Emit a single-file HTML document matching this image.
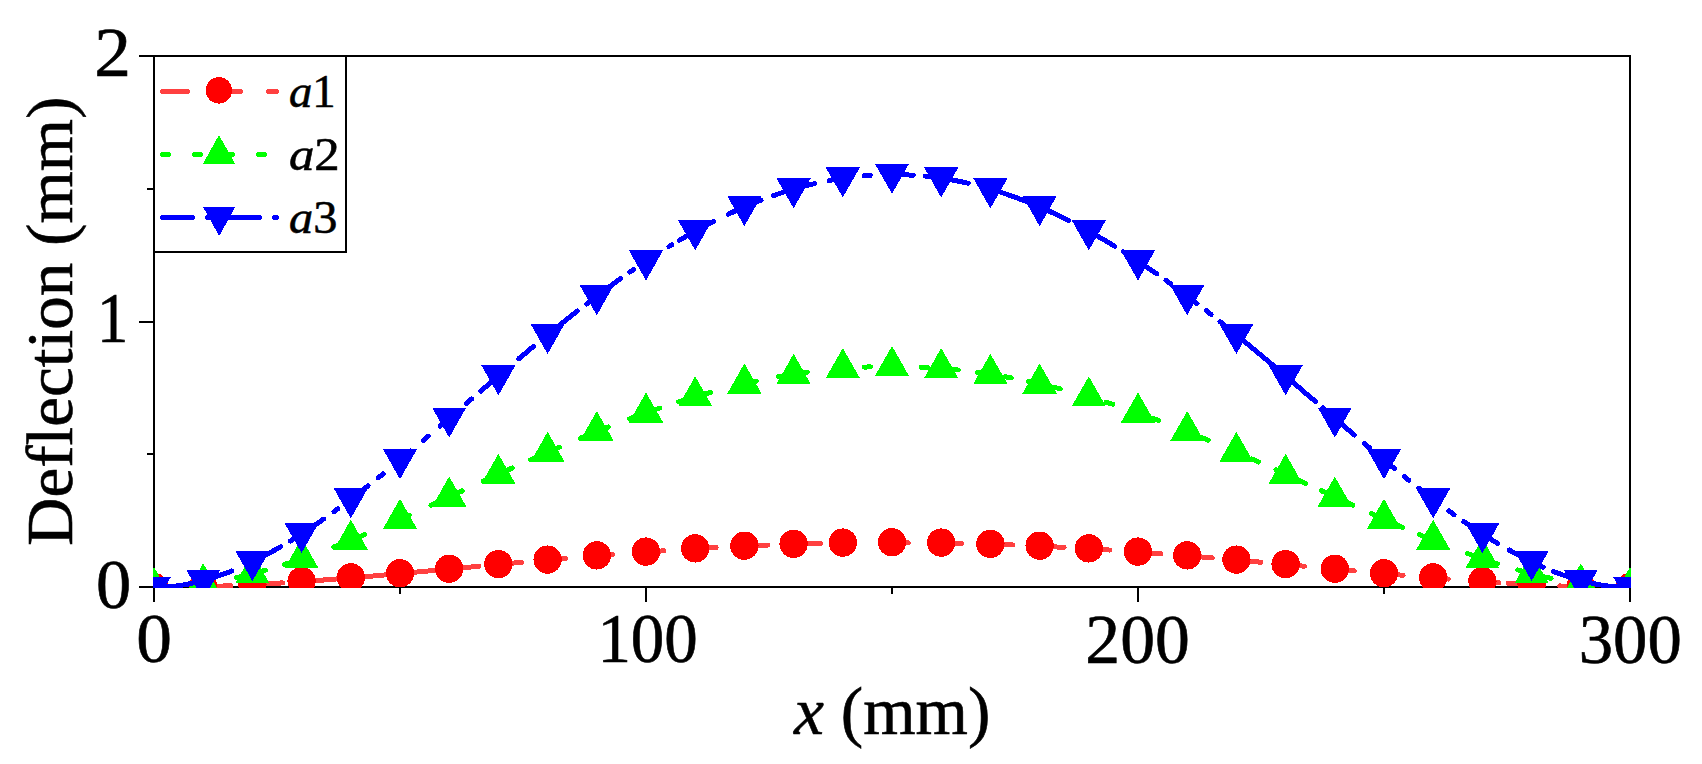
<!DOCTYPE html>
<html><head><meta charset="utf-8"><title>Deflection</title>
<style>
html,body{margin:0;padding:0;background:#fff;}
body{width:1702px;height:764px;overflow:hidden;}
svg{display:block;}
text{font-family:"Liberation Serif",serif;fill:#000;stroke:#000;stroke-width:0.6px;}
</style></head><body>
<svg width="1702" height="764" viewBox="0 0 1702 764">
<rect width="1702" height="764" fill="#fff"/>
<defs><clipPath id="cp"><rect x="153.0" y="55.0" width="1478.0" height="533.0"/></clipPath></defs>

<g stroke="#000" stroke-width="2" fill="none" stroke-linecap="butt" shape-rendering="crispEdges">
<rect x="154.0" y="56.0" width="1476.0" height="531.0"/>
<line x1="139.0" y1="587" x2="154.0" y2="587"/>
<line x1="139.0" y1="322" x2="154.0" y2="322"/>
<line x1="139.0" y1="56" x2="154.0" y2="56"/>
<line x1="147.0" y1="454" x2="154.0" y2="454"/>
<line x1="147.0" y1="189" x2="154.0" y2="189"/>
<line x1="154.0" y1="587.0" x2="154.0" y2="602.0"/>
<line x1="646.0" y1="587.0" x2="646.0" y2="602.0"/>
<line x1="1138.0" y1="587.0" x2="1138.0" y2="602.0"/>
<line x1="1630.0" y1="587.0" x2="1630.0" y2="602.0"/>
<line x1="400.0" y1="587.0" x2="400.0" y2="594.0"/>
<line x1="892.0" y1="587.0" x2="892.0" y2="594.0"/>
<line x1="1384.0" y1="587.0" x2="1384.0" y2="594.0"/>
</g>
<g clip-path="url(#cp)" shape-rendering="crispEdges">
<path d="M205.9,586.6 L208.1,586.5 L210.6,586.4 L213.0,586.3 L215.5,586.3 L218.0,586.2 L220.4,586.1 L222.9,586.0 L225.3,585.9 L227.8,585.8 L230.3,585.7 L230.9,585.7 M257.6,584.3 L259.8,584.2 L262.2,584.1 L264.7,584.0 L267.2,583.8 L269.6,583.7 L272.1,583.5 L274.5,583.4 L277.0,583.2 L279.5,583.1 L281.9,582.9 L282.6,582.9 M304.5,581.4 L306.5,581.2 L309.0,581.1 L311.4,580.9 L313.9,580.7 L316.4,580.5 L318.8,580.3 L321.3,580.2 L323.7,580.0 L326.2,579.8 L328.7,579.6 L331.1,579.4 L333.6,579.2 L336.0,579.0 L338.5,578.8 L341.0,578.6 L343.4,578.4 L345.9,578.2 L348.3,578.0 L350.8,577.8 L353.3,577.6 L355.7,577.4 L358.2,577.2 L360.6,577.0 L363.1,576.8 L365.6,576.6 L368.0,576.4 L370.5,576.2 L372.9,576.0 L375.4,575.8 L377.9,575.5 L380.3,575.3 L382.8,575.1 L385.2,574.9 L387.7,574.7 L390.2,574.5 L392.6,574.2 L395.1,574.0 L397.5,573.8 L400.0,573.6 L402.5,573.4 L404.9,573.1 L407.4,572.9 L409.8,572.7 L412.3,572.5 L414.8,572.2 L417.2,572.0 L419.7,571.8 L422.1,571.6 L424.6,571.3 L427.1,571.1 L429.5,570.9 L432.0,570.7 L434.4,570.4 L436.9,570.2 L439.4,570.0 L441.8,569.7 L444.3,569.5 L446.7,569.3 L449.2,569.1 L451.7,568.8 L454.1,568.6 L456.6,568.4 L459.0,568.1 L461.5,567.9 L464.0,567.7 L466.4,567.4 L468.9,567.2 L471.3,567.0 L473.8,566.8 L476.3,566.5 L478.7,566.3 L478.9,566.3 M501.2,564.2 L503.3,564.0 L505.8,563.8 L508.2,563.6 L510.7,563.3 L513.2,563.1 L515.6,562.9 L518.1,562.7 L520.5,562.4 L521.6,562.3 M550.5,559.7 L552.5,559.6 L555.0,559.3 L557.4,559.1 L559.9,558.9 L562.4,558.7 L564.8,558.5 L565.2,558.5 M599.7,555.6 L601.7,555.4 L604.2,555.2 L606.6,555.0 L609.1,554.8 L611.6,554.6 L612.8,554.5 M648.5,551.8 L650.9,551.7 L653.4,551.5 L655.8,551.3 L658.3,551.1 L660.8,551.0 L663.2,550.8 L663.9,550.8 M698.1,548.6 L700.1,548.5 L702.6,548.3 L705.0,548.2 L707.5,548.0 L710.0,547.9 L712.4,547.8 L714.9,547.6 L716.3,547.5 M747.5,546.0 L749.3,545.9 L751.8,545.8 L754.2,545.7 L756.7,545.6 L759.2,545.5 L761.6,545.4 L764.1,545.3 L766.5,545.2 L768.0,545.1 M796.5,544.1 L798.5,544.0 L801.0,544.0 L803.4,543.9 L805.9,543.8 L808.4,543.8 L810.8,543.7 L813.3,543.6 L815.7,543.6 L818.2,543.5 L820.4,543.4 M895.0,542.6 L896.9,542.6 L899.4,542.6 L901.8,542.6 L904.3,542.6 L906.8,542.6 L908.3,542.7 M944.2,543.1 L946.1,543.1 L948.6,543.1 L951.0,543.2 L953.5,543.2 L956.0,543.3 L958.4,543.3 L960.9,543.4 L961.4,543.4 M993.5,544.3 L995.3,544.3 L997.8,544.4 L1000.2,544.5 L1002.7,544.6 L1005.2,544.7 L1007.6,544.8 L1010.1,544.9 L1012.5,545.0 L1013.0,545.0 M1042.5,546.3 L1044.5,546.4 L1047.0,546.5 L1049.4,546.6 L1051.9,546.7 L1054.4,546.8 L1056.8,547.0 L1059.3,547.1 L1061.7,547.2 L1064.1,547.3 M1092.0,548.9 L1093.7,549.1 L1096.2,549.2 L1098.6,549.4 L1101.1,549.5 L1103.6,549.7 L1106.0,549.8 L1108.5,550.0 L1109.9,550.1 M1141.2,552.2 L1142.9,552.4 L1145.4,552.5 L1147.8,552.7 L1150.3,552.9 L1152.8,553.1 L1155.2,553.3 L1157.7,553.5 L1160.1,553.7 L1161.0,553.7 M1190.5,556.1 L1192.1,556.2 L1194.6,556.4 L1197.0,556.6 L1199.5,556.8 L1202.0,557.0 L1204.4,557.2 L1206.9,557.4 L1209.3,557.6 L1211.8,557.9 L1212.1,557.9 M1239.5,560.3 L1241.3,560.4 L1243.8,560.7 L1246.2,560.9 L1248.7,561.1 L1251.2,561.3 L1253.6,561.5 L1256.1,561.8 L1258.5,562.0 L1260.9,562.2 M1288.9,564.8 L1290.5,564.9 L1293.0,565.2 L1295.4,565.4 L1297.9,565.6 L1300.4,565.8 L1302.8,566.1 L1304.5,566.2 M1338.1,569.4 L1339.7,569.5 L1342.2,569.7 L1344.6,570.0 L1347.1,570.2 L1349.6,570.4 L1352.0,570.7 L1354.3,570.9 M1387.3,573.9 L1388.9,574.0 L1391.4,574.2 L1393.8,574.5 L1396.3,574.7 L1398.8,574.9 L1401.2,575.1 L1403.2,575.3 M1436.5,578.1 L1438.1,578.2 L1440.6,578.4 L1443.0,578.6 L1445.5,578.8 L1448.0,579.0 L1448.4,579.1 M1485.7,581.8 L1487.3,581.9 L1489.8,582.1 L1492.2,582.3 L1494.7,582.4 L1497.2,582.6 L1499.0,582.7 M1508.2,583.3 L1509.5,583.4 L1511.9,583.5 L1514.4,583.7 L1516.8,583.8 L1519.3,584.0 L1521.8,584.1 L1524.2,584.2 L1526.7,584.4 L1528.5,584.5 M1559.7,585.9 L1561.1,586.0 L1563.6,586.1 L1566.0,586.2 L1568.5,586.3 L1571.0,586.3 L1573.4,586.4 L1575.9,586.5 L1578.3,586.6 L1578.5,586.6" fill="none" stroke="#ff4040" stroke-width="5.0" stroke-linecap="round" stroke-linejoin="round"/>
<circle cx="154.0" cy="587.0" r="14.15" fill="#ff0000"/>
<circle cx="203.2" cy="586.3" r="14.15" fill="#ff0000"/>
<circle cx="252.4" cy="584.2" r="14.15" fill="#ff0000"/>
<circle cx="301.6" cy="581.2" r="14.15" fill="#ff0000"/>
<circle cx="350.8" cy="577.4" r="14.15" fill="#ff0000"/>
<circle cx="400.0" cy="573.2" r="14.15" fill="#ff0000"/>
<circle cx="449.2" cy="568.7" r="14.15" fill="#ff0000"/>
<circle cx="498.4" cy="564.1" r="14.15" fill="#ff0000"/>
<circle cx="547.6" cy="559.6" r="14.15" fill="#ff0000"/>
<circle cx="596.8" cy="555.4" r="14.15" fill="#ff0000"/>
<circle cx="646.0" cy="551.6" r="14.15" fill="#ff0000"/>
<circle cx="695.2" cy="548.4" r="14.15" fill="#ff0000"/>
<circle cx="744.4" cy="545.7" r="14.15" fill="#ff0000"/>
<circle cx="793.6" cy="543.8" r="14.15" fill="#ff0000"/>
<circle cx="842.8" cy="542.6" r="14.15" fill="#ff0000"/>
<circle cx="892.0" cy="542.2" r="14.15" fill="#ff0000"/>
<circle cx="941.2" cy="542.6" r="14.15" fill="#ff0000"/>
<circle cx="990.4" cy="543.8" r="14.15" fill="#ff0000"/>
<circle cx="1039.6" cy="545.7" r="14.15" fill="#ff0000"/>
<circle cx="1088.8" cy="548.4" r="14.15" fill="#ff0000"/>
<circle cx="1138.0" cy="551.6" r="14.15" fill="#ff0000"/>
<circle cx="1187.2" cy="555.4" r="14.15" fill="#ff0000"/>
<circle cx="1236.4" cy="559.6" r="14.15" fill="#ff0000"/>
<circle cx="1285.6" cy="564.1" r="14.15" fill="#ff0000"/>
<circle cx="1334.8" cy="568.7" r="14.15" fill="#ff0000"/>
<circle cx="1384.0" cy="573.2" r="14.15" fill="#ff0000"/>
<circle cx="1433.2" cy="577.4" r="14.15" fill="#ff0000"/>
<circle cx="1482.4" cy="581.2" r="14.15" fill="#ff0000"/>
<circle cx="1531.6" cy="584.2" r="14.15" fill="#ff0000"/>
<circle cx="1580.8" cy="586.3" r="14.15" fill="#ff0000"/>
<circle cx="1630.0" cy="587.0" r="14.15" fill="#ff0000"/>
<path d="M236.7,577.5 L237.6,577.3 L240.1,576.7 L242.6,576.2 L243.2,576.0 M258.9,572.0 L259.8,571.8 L262.2,571.1 L264.7,570.4 L265.4,570.2 M284.3,564.5 L284.4,564.5 L286.8,563.7 L289.3,562.9 L290.8,562.4 M333.7,547.0 L336.0,546.1 L338.5,545.1 L340.4,544.4 M357.7,537.4 L358.2,537.2 L360.6,536.2 L363.1,535.1 L364.4,534.6 M402.5,518.1 L404.9,517.0 L407.4,515.9 L409.2,515.1 M431.0,505.3 L432.0,504.8 L434.4,503.7 L436.9,502.6 L437.7,502.2 M455.5,494.0 L456.6,493.5 L459.0,492.4 L461.5,491.3 L462.2,490.9 M483.3,481.2 L483.6,481.1 L486.1,479.9 L488.6,478.8 L490.0,478.1 M505.7,471.0 L505.8,470.9 L508.2,469.8 L510.7,468.7 L512.4,467.9 M530.6,459.8 L532.8,458.7 L535.3,457.7 L537.3,456.8 M552.7,450.0 L555.0,449.0 L557.4,448.0 L559.4,447.1 M580.5,438.2 L582.0,437.6 L584.5,436.5 L587.0,435.5 L587.2,435.4 M601.7,429.6 L604.2,428.6 L606.6,427.6 L608.4,426.9 M629.5,418.8 L631.2,418.2 L633.7,417.3 L636.2,416.4 M653.2,410.4 L653.4,410.3 L655.8,409.4 L658.3,408.6 L659.7,408.1 M678.6,401.9 L680.4,401.3 L682.9,400.5 L685.1,399.9 M703.8,394.3 L705.0,393.9 L707.5,393.3 L710.0,392.6 L710.3,392.5 M749.8,382.6 L751.8,382.2 L754.2,381.6 L756.3,381.2 M778.6,376.8 L778.8,376.8 L781.3,376.3 L783.8,375.9 L784.9,375.7 M801.0,373.2 L801.0,373.2 L803.4,372.8 L805.9,372.5 L807.3,372.3 M864.4,367.1 L864.9,367.1 L867.4,367.0 L869.9,366.9 L870.4,366.9 M921.3,367.2 L921.5,367.2 L924.0,367.3 L926.4,367.5 L927.6,367.5 M951.9,369.4 L953.5,369.6 L956.0,369.8 L958.2,370.0 M977.4,372.4 L978.1,372.5 L980.6,372.8 L983.0,373.2 L983.7,373.3 M1004.9,376.7 L1005.2,376.8 L1007.6,377.2 L1010.1,377.7 L1011.2,377.9 M1028.6,381.4 L1029.8,381.6 L1032.2,382.2 L1034.7,382.7 L1035.1,382.8 M1053.8,387.2 L1054.4,387.4 L1056.8,388.0 L1059.3,388.6 L1060.3,388.9 M1106.1,402.1 L1108.5,402.9 L1110.9,403.7 L1112.6,404.2 M1152.0,418.0 L1152.8,418.2 L1155.2,419.1 L1157.7,420.1 L1158.7,420.4 M1201.6,437.4 L1202.0,437.6 L1204.4,438.6 L1206.9,439.6 L1208.3,440.2 M1251.8,459.0 L1253.6,459.8 L1256.1,460.9 L1258.5,462.0 M1276.0,469.9 L1278.2,470.9 L1280.7,472.1 L1282.7,473.0 M1298.8,480.3 L1300.4,481.1 L1302.8,482.2 L1305.3,483.3 L1305.5,483.4 M1321.2,490.6 L1322.5,491.3 L1325.0,492.4 L1327.4,493.5 L1327.9,493.8 M1346.1,502.1 L1347.1,502.6 L1349.6,503.7 L1352.0,504.8 L1352.8,505.2 M1371.6,513.7 L1371.7,513.7 L1374.2,514.8 L1376.6,515.9 L1378.3,516.7 M1396.0,524.5 L1396.3,524.6 L1398.8,525.7 L1401.2,526.8 L1402.7,527.4 M1419.4,534.5 L1420.9,535.1 L1423.4,536.2 L1425.8,537.2 L1426.1,537.3 M1467.3,553.4 L1467.6,553.5 L1470.1,554.4 L1472.6,555.3 L1473.9,555.8 M1490.9,561.6 L1492.2,562.1 L1494.7,562.9 L1497.2,563.7 L1497.4,563.8 M1517.9,570.0 L1519.3,570.4 L1521.8,571.1 L1524.2,571.8 L1524.4,571.8 M1544.6,576.9 L1546.4,577.3 L1548.8,577.9 L1551.1,578.3" fill="none" stroke="#00ff00" stroke-width="5.0" stroke-linecap="round" stroke-linejoin="round"/>
<polygon points="136.9,597.0 171.1,597.0 154.0,566.9" fill="#00ff00"/>
<polygon points="186.1,593.4 220.3,593.4 203.2,563.3" fill="#00ff00"/>
<polygon points="235.3,583.3 269.5,583.3 252.4,553.2" fill="#00ff00"/>
<polygon points="284.5,568.4 318.7,568.4 301.6,538.3" fill="#00ff00"/>
<polygon points="333.7,549.8 367.9,549.8 350.8,519.7" fill="#00ff00"/>
<polygon points="382.9,528.9 417.1,528.9 400.0,498.8" fill="#00ff00"/>
<polygon points="432.1,506.6 466.3,506.6 449.2,476.5" fill="#00ff00"/>
<polygon points="481.3,483.9 515.5,483.9 498.4,453.8" fill="#00ff00"/>
<polygon points="530.5,461.9 564.7,461.9 547.6,431.8" fill="#00ff00"/>
<polygon points="579.7,441.2 613.9,441.2 596.8,411.1" fill="#00ff00"/>
<polygon points="628.9,422.5 663.1,422.5 646.0,392.4" fill="#00ff00"/>
<polygon points="678.1,406.4 712.3,406.4 695.2,376.3" fill="#00ff00"/>
<polygon points="727.3,393.5 761.5,393.5 744.4,363.4" fill="#00ff00"/>
<polygon points="776.5,383.9 810.7,383.9 793.6,353.8" fill="#00ff00"/>
<polygon points="825.7,378.1 859.9,378.1 842.8,348.0" fill="#00ff00"/>
<polygon points="874.9,376.1 909.1,376.1 892.0,346.0" fill="#00ff00"/>
<polygon points="924.1,378.1 958.3,378.1 941.2,348.0" fill="#00ff00"/>
<polygon points="973.3,383.9 1007.5,383.9 990.4,353.8" fill="#00ff00"/>
<polygon points="1022.5,393.5 1056.7,393.5 1039.6,363.4" fill="#00ff00"/>
<polygon points="1071.7,406.4 1105.9,406.4 1088.8,376.3" fill="#00ff00"/>
<polygon points="1120.9,422.5 1155.1,422.5 1138.0,392.4" fill="#00ff00"/>
<polygon points="1170.1,441.2 1204.3,441.2 1187.2,411.1" fill="#00ff00"/>
<polygon points="1219.3,461.9 1253.5,461.9 1236.4,431.8" fill="#00ff00"/>
<polygon points="1268.5,483.9 1302.7,483.9 1285.6,453.8" fill="#00ff00"/>
<polygon points="1317.7,506.6 1351.9,506.6 1334.8,476.5" fill="#00ff00"/>
<polygon points="1366.9,528.9 1401.1,528.9 1384.0,498.8" fill="#00ff00"/>
<polygon points="1416.1,549.8 1450.3,549.8 1433.2,519.7" fill="#00ff00"/>
<polygon points="1465.3,568.4 1499.5,568.4 1482.4,538.3" fill="#00ff00"/>
<polygon points="1514.5,583.3 1548.7,583.3 1531.6,553.2" fill="#00ff00"/>
<polygon points="1563.7,593.4 1597.9,593.4 1580.8,563.3" fill="#00ff00"/>
<polygon points="1612.9,597.0 1647.1,597.0 1630.0,566.9" fill="#00ff00"/>
<path d="M156.5,587.4 L158.9,587.3 L161.4,587.2 L163.8,587.1 L166.3,586.9 L168.8,586.8 L171.2,586.5 L173.7,586.3 L176.1,586.0 L178.6,585.6 L181.1,585.3 L183.5,584.9 L186.0,584.4 L188.4,584.0 L190.9,583.5 L193.4,582.9 L195.8,582.4 L198.3,581.8 L200.6,581.2 M205.4,579.9 L205.7,579.9 L208.1,579.2 L210.6,578.4 L213.0,577.7 L215.5,576.9 L218.0,576.0 L220.4,575.2 L222.9,574.3 L225.3,573.4 L227.8,572.5 L230.3,571.5 L231.6,571.0 M254.6,560.7 L254.9,560.6 L257.3,559.4 L259.8,558.2 L262.2,556.9 L264.7,555.6 L267.2,554.3 L269.6,553.0 L272.1,551.6 L274.5,550.2 L277.0,548.9 L279.5,547.4 L280.7,546.7 M290.3,541.0 L291.8,540.1 L294.2,538.6 L296.7,537.0 L299.1,535.5 L301.6,533.9 L304.1,532.3 L306.5,530.7 L309.0,529.1 L311.4,527.4 L313.9,525.8 L316.4,524.1 L318.8,522.4 L321.3,520.7 L323.7,519.0 L323.8,519.0 M334.0,511.6 L336.0,510.2 L337.9,508.8 M352.8,497.7 L353.3,497.3 L355.7,495.4 L358.2,493.5 L360.6,491.6 L363.1,489.7 L365.6,487.8 L368.0,485.9 L368.0,485.9 M378.1,477.9 L380.3,476.1 L382.8,474.1 L383.1,473.9 M401.9,458.4 L402.5,457.9 L404.9,455.9 L407.4,453.8 L409.8,451.8 L410.6,451.1 M423.3,440.4 L424.6,439.3 L427.1,437.2 L428.3,436.2 M440.1,426.1 L441.8,424.6 L444.3,422.5 L446.7,420.4 L449.2,418.3 L450.1,417.5 M466.6,403.3 L468.9,401.4 L471.3,399.2 L471.6,399.0 M480.7,391.2 L481.2,390.8 L483.6,388.7 L486.1,386.5 L488.6,384.4 L491.0,382.3 L493.5,380.2 L495.9,378.1 L496.5,377.6 M518.7,358.8 L520.5,357.2 L523.0,355.2 L525.5,353.1 L527.9,351.1 L530.4,349.0 L532.8,347.0 L533.4,346.5 M549.5,333.2 L550.1,332.8 L552.5,330.8 L555.0,328.8 L557.4,326.8 L559.9,324.8 L562.4,322.9 L564.8,320.9 L567.3,318.9 L569.7,317.0 L572.2,315.0 L574.7,313.1 L577.1,311.2 L577.3,311.0 M586.6,303.9 L587.0,303.6 L589.4,301.7 L591.9,299.8 L594.3,297.9 L596.8,296.1 L599.3,294.2 L601.7,292.4 L604.2,290.6 L606.6,288.8 L609.1,287.0 L611.6,285.2 L614.0,283.4 L616.5,281.6 L618.9,279.8 L620.7,278.6 M630.0,272.0 L631.2,271.2 L633.7,269.5 L633.7,269.5 M669.0,246.5 L670.6,245.5 L671.7,244.9 M679.1,240.4 L680.4,239.6 L682.9,238.2 L685.4,236.7 L687.8,235.3 L690.3,233.9 L692.7,232.5 L695.2,231.2 L697.7,229.8 L700.1,228.5 L702.6,227.2 L705.0,225.8 L707.5,224.5 L710.0,223.3 L712.4,222.0 L713.7,221.4 M728.4,214.2 L729.6,213.5 L732.1,212.4 L734.6,211.3 L737.0,210.2 L739.5,209.1 L741.9,208.0 L744.4,206.9 L746.9,205.9 L749.3,204.8 L751.8,203.8 L754.2,202.8 L756.7,201.8 L759.2,200.9 L761.0,200.2 M773.6,195.5 L773.9,195.4 L776.4,194.6 L778.8,193.7 L781.3,192.9 L783.8,192.1 L786.2,191.3 L788.7,190.6 L791.1,189.8 L793.6,189.1 L796.1,188.4 L798.5,187.7 L801.0,187.0 L803.4,186.4 L805.9,185.7 L808.4,185.1 L810.8,184.5 L813.3,183.9 L814.5,183.6 M829.1,180.5 L830.5,180.3 L833.0,179.8 L835.4,179.4 L837.9,179.0 L840.3,178.6 M864.4,175.7 L864.9,175.7 L867.4,175.5 L869.9,175.3 L870.2,175.3 M894.5,174.6 L896.9,174.6 L899.4,174.6 L901.8,174.7 L904.3,174.8 L906.8,174.9 L909.2,175.0 L911.7,175.1 L913.3,175.2 M925.4,176.2 L926.4,176.3 L928.9,176.6 L931.4,176.9 L933.8,177.2 L936.3,177.5 L938.7,177.9 L941.2,178.2 L943.7,178.6 L946.1,179.0 L948.6,179.4 L951.0,179.8 L953.5,180.3 L956.0,180.7 L958.4,181.2 L960.9,181.7 L963.3,182.2 L965.8,182.8 L968.2,183.3 M992.8,189.8 L992.9,189.8 L995.3,190.6 L997.8,191.3 L1000.2,192.1 L1002.7,192.9 L1005.2,193.7 L1007.6,194.6 L1010.1,195.4 L1012.5,196.3 L1015.0,197.2 L1017.5,198.1 L1019.9,199.0 L1022.4,199.9 L1024.8,200.9 L1027.3,201.8 L1029.8,202.8 L1032.2,203.8 L1034.7,204.8 L1037.1,205.9 L1039.6,206.9 L1042.1,208.0 L1044.5,209.1 L1047.0,210.2 L1049.4,211.3 L1051.9,212.4 L1054.4,213.5 L1056.8,214.7 L1059.3,215.9 L1061.7,217.1 L1064.2,218.3 L1066.7,219.5 L1068.8,220.6 M1091.0,232.4 L1091.3,232.5 L1093.7,233.9 L1096.2,235.3 L1098.6,236.7 L1101.1,238.2 L1103.6,239.6 L1106.0,241.1 L1108.5,242.5 L1110.9,244.0 L1113.4,245.5 L1114.9,246.4 M1123.3,251.7 L1125.7,253.2 L1128.2,254.8 L1130.6,256.4 L1133.1,258.0 L1135.5,259.6 L1138.0,261.2 L1140.5,262.8 L1142.9,264.5 L1145.4,266.1 L1147.8,267.8 L1150.3,269.5 L1152.8,271.2 L1155.2,272.9 L1156.7,273.9 M1166.0,280.5 L1167.5,281.6 L1170.0,283.4 L1170.8,284.0 M1189.2,297.6 L1189.7,297.9 L1192.1,299.8 L1194.6,301.7 L1196.9,303.5 M1206.2,310.6 L1206.9,311.2 L1209.3,313.1 L1211.1,314.5 M1220.0,321.5 L1221.6,322.9 L1224.1,324.8 L1226.6,326.8 L1229.0,328.8 L1231.5,330.8 L1233.9,332.8 L1236.4,334.8 L1238.9,336.8 L1241.3,338.8 L1243.8,340.8 L1246.2,342.9 L1248.7,344.9 L1251.2,347.0 L1253.6,349.0 L1256.1,351.1 L1258.5,353.1 L1261.0,355.2 L1263.5,357.2 L1265.9,359.3 L1268.4,361.4 L1270.8,363.5 L1273.3,365.5 L1275.8,367.6 L1278.2,369.7 L1280.7,371.8 L1283.1,373.9 L1285.6,376.0 L1288.1,378.1 L1290.5,380.2 L1293.0,382.3 L1295.4,384.4 L1297.9,386.5 L1300.4,388.7 L1302.8,390.8 L1305.3,392.9 L1307.7,395.0 L1310.2,397.1 L1312.7,399.2 L1315.1,401.4 L1315.5,401.7 M1322.7,407.9 L1325.0,409.8 L1327.4,411.9 L1329.9,414.1 L1332.3,416.2 L1334.8,418.3 L1337.3,420.4 L1339.7,422.5 L1342.2,424.6 L1344.6,426.7 L1347.1,428.8 L1349.6,430.9 L1352.0,433.0 L1354.3,435.0 M1364.5,443.7 L1366.8,445.6 L1369.2,447.6 L1369.9,448.2 M1385.9,461.6 L1386.5,462.0 L1388.9,464.0 L1391.4,466.1 L1393.8,468.1 L1394.3,468.4 M1404.2,476.5 L1406.1,478.0 L1408.6,480.0 L1408.8,480.2 M1418.8,488.1 L1420.9,489.7 L1423.4,491.6 L1425.8,493.5 L1428.3,495.4 L1430.7,497.3 L1431.0,497.5 M1448.8,510.8 L1450.4,512.0 L1452.9,513.7 L1454.1,514.6 M1463.8,521.5 L1465.2,522.4 L1467.6,524.1 L1470.1,525.8 L1472.6,527.4 L1475.0,529.1 L1477.5,530.7 L1479.9,532.3 L1482.4,533.9 L1484.9,535.5 L1487.3,537.0 L1489.8,538.6 L1492.2,540.1 L1494.7,541.6 L1497.2,543.1 L1497.6,543.4 M1509.1,550.0 L1509.5,550.2 L1511.9,551.6 L1514.4,553.0 L1516.8,554.3 L1519.3,555.6 L1521.8,556.9 L1524.2,558.2 L1526.7,559.4 L1529.1,560.6 L1531.6,561.8 L1534.1,563.0 L1536.5,564.2 L1539.0,565.3 L1541.4,566.4 L1543.2,567.2 M1553.3,571.4 L1553.7,571.5 L1556.2,572.5 L1558.7,573.4 L1561.1,574.3 L1563.6,575.2 L1566.0,576.0 L1568.5,576.9 L1571.0,577.7 L1573.4,578.4 L1575.9,579.2 L1578.3,579.9 L1578.6,579.9 M1583.4,581.2 L1585.7,581.8 L1588.2,582.4 L1590.6,582.9 L1593.1,583.5 L1595.6,584.0 L1598.0,584.4 L1600.5,584.9 L1602.9,585.3 L1605.4,585.6 L1607.9,586.0 L1610.3,586.3 L1612.8,586.5 L1615.2,586.8 L1617.7,586.9 L1620.2,587.1 L1622.6,587.2 L1625.1,587.3 L1627.5,587.4" fill="none" stroke="#0000ff" stroke-width="5.0" stroke-linecap="round" stroke-linejoin="round"/>
<polygon points="136.9,576.6 171.1,576.6 154.0,606.7" fill="#0000ff"/>
<polygon points="186.1,569.7 220.3,569.7 203.2,599.8" fill="#0000ff"/>
<polygon points="235.3,551.0 269.5,551.0 252.4,581.1" fill="#0000ff"/>
<polygon points="284.5,523.0 318.7,523.0 301.6,553.1" fill="#0000ff"/>
<polygon points="333.7,488.3 367.9,488.3 350.8,518.4" fill="#0000ff"/>
<polygon points="382.9,449.1 417.1,449.1 400.0,479.2" fill="#0000ff"/>
<polygon points="432.1,407.5 466.3,407.5 449.2,437.6" fill="#0000ff"/>
<polygon points="481.3,365.2 515.5,365.2 498.4,395.3" fill="#0000ff"/>
<polygon points="530.5,323.9 564.7,323.9 547.6,354.0" fill="#0000ff"/>
<polygon points="579.7,285.2 613.9,285.2 596.8,315.3" fill="#0000ff"/>
<polygon points="628.9,250.4 663.1,250.4 646.0,280.5" fill="#0000ff"/>
<polygon points="678.1,220.3 712.3,220.3 695.2,250.4" fill="#0000ff"/>
<polygon points="727.3,196.1 761.5,196.1 744.4,226.2" fill="#0000ff"/>
<polygon points="776.5,178.3 810.7,178.3 793.6,208.4" fill="#0000ff"/>
<polygon points="825.7,167.4 859.9,167.4 842.8,197.5" fill="#0000ff"/>
<polygon points="874.9,163.7 909.1,163.7 892.0,193.8" fill="#0000ff"/>
<polygon points="924.1,167.4 958.3,167.4 941.2,197.5" fill="#0000ff"/>
<polygon points="973.3,178.3 1007.5,178.3 990.4,208.4" fill="#0000ff"/>
<polygon points="1022.5,196.1 1056.7,196.1 1039.6,226.2" fill="#0000ff"/>
<polygon points="1071.7,220.3 1105.9,220.3 1088.8,250.4" fill="#0000ff"/>
<polygon points="1120.9,250.4 1155.1,250.4 1138.0,280.5" fill="#0000ff"/>
<polygon points="1170.1,285.2 1204.3,285.2 1187.2,315.3" fill="#0000ff"/>
<polygon points="1219.3,323.9 1253.5,323.9 1236.4,354.0" fill="#0000ff"/>
<polygon points="1268.5,365.2 1302.7,365.2 1285.6,395.3" fill="#0000ff"/>
<polygon points="1317.7,407.5 1351.9,407.5 1334.8,437.6" fill="#0000ff"/>
<polygon points="1366.9,449.1 1401.1,449.1 1384.0,479.2" fill="#0000ff"/>
<polygon points="1416.1,488.3 1450.3,488.3 1433.2,518.4" fill="#0000ff"/>
<polygon points="1465.3,523.0 1499.5,523.0 1482.4,553.1" fill="#0000ff"/>
<polygon points="1514.5,551.0 1548.7,551.0 1531.6,581.1" fill="#0000ff"/>
<polygon points="1563.7,569.7 1597.9,569.7 1580.8,599.8" fill="#0000ff"/>
<polygon points="1612.9,576.6 1647.1,576.6 1630.0,606.7" fill="#0000ff"/>
</g>
<rect x="154" y="56" width="192" height="196" fill="#fff" stroke="#000" stroke-width="2" shape-rendering="crispEdges"/>
<g shape-rendering="crispEdges" fill="none" stroke-width="5" stroke-linecap="round">
<path d="M162.5,91.5 L187.5,91.5 M215.5,91.5 L240.5,91.5 M268.5,91.5 L276.5,91.5" stroke="#ff4040"/>
<path d="M162.5,154.5 L168.8,154.5 M194.5,154.5 L200.8,154.5 M226.5,154.5 L232.8,154.5 M258.5,154.5 L264.8,154.5" stroke="#00ff00"/>
<path d="M162.5,217.5 L192.5,217.5 M207.5,217.5 L209.5,217.5 M224.5,217.5 L259.5,217.5 M274.5,217.5 L276.5,217.5" stroke="#0000ff"/>
</g><g shape-rendering="crispEdges">
<circle cx="218.9" cy="90.4" r="13.2" fill="#ff0000"/>
<polygon points="202.8,164.0 235.2,164.0 219.0,135.0" fill="#00ff00"/>
<polygon points="203.0,206.9 235.3,206.9 219.2,235.9" fill="#0000ff"/>
</g>
<text transform="translate(289.03,106.60) scale(0.9727,0.9656)" font-size="48"><tspan font-style="italic">a</tspan>1</text>
<text transform="translate(288.94,169.50) scale(1.0591,0.9469)" font-size="48"><tspan font-style="italic">a</tspan>2</text>
<text transform="translate(288.99,232.70) scale(1.0067,0.9562)" font-size="48"><tspan font-style="italic">a</tspan>3</text>
<text transform="translate(94.36,76.30) scale(1.0815,1.0227)" font-size="68">2</text>
<text transform="translate(96.9,342.0) scale(0.92,1.0500)" font-size="68">1</text>
<text transform="translate(95.99,607.50) scale(1.0357,1.0364)" font-size="68">0</text>
<text transform="translate(136.25,662.10) scale(1.0500,1.0273)" font-size="68">0</text>
<text transform="translate(597.39,662.10) scale(0.9849,1.0205)" font-size="68">100</text>
<text transform="translate(1085.33,662.70) scale(1.0240,1.0364)" font-size="68">200</text>
<text transform="translate(1578.77,662.70) scale(1.0104,1.0364)" font-size="68">300</text>
<text transform="translate(794.09,734.26) scale(0.9898,0.9885)" font-size="68"><tspan font-style="italic">x</tspan> (mm)</text>
<text transform="translate(72.46,546.08) rotate(-90) scale(0.9876,0.9597)" font-size="68">Deflection (mm)</text>
</svg></body></html>
